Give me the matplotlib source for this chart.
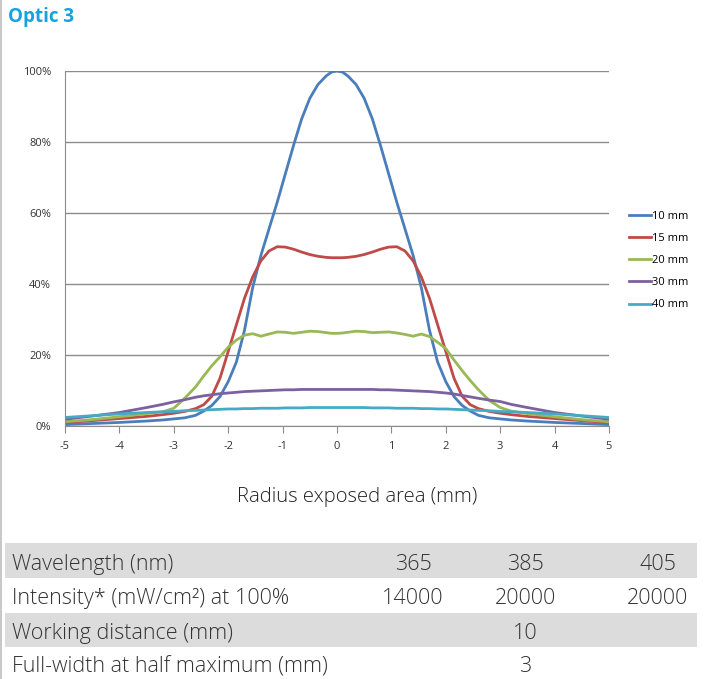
import matplotlib.pyplot as plt
from matplotlib.patches import Rectangle

# radius (mm) and relative intensity (%)
x = [-5, -4.5, -4, -3.5, -3.2, -3, -2.8, -2.6, -2.45, -2.3, -2.15, -2.0, -1.85, -1.7, -1.55,
     -1.4, -1.25, -1.1, -0.95, -0.8, -0.65, -0.5, -0.35, -0.2, -0.1, 0,
     0.1, 0.2, 0.35, 0.5, 0.65, 0.8, 0.95, 1.1, 1.25, 1.4,
     1.55, 1.7, 1.85, 2.0, 2.15, 2.3, 2.45, 2.6, 2.8, 3, 3.2, 3.5, 4, 4.5, 5]

d10 = [0.4, 0.7, 1.0, 1.4, 1.7, 2.0, 2.3, 3.0, 4.2, 5.8, 8.3, 12.5, 18, 27, 39,
       48, 55.5, 63, 71, 79, 86.5, 92.3, 96.2, 98.6, 99.7, 100,
       99.7, 98.6, 96.2, 92.3, 86.5, 79, 71, 63, 55.5, 48,
       39, 27, 18, 12.5, 8.3, 5.8, 4.2, 3.0, 2.3, 2.0, 1.7, 1.4, 1.0, 0.7, 0.4]
d15 = [1.0, 1.5, 2.1, 2.7, 3.2, 3.6, 4.1, 4.9, 6.0, 8.4, 13.5, 21, 28.5, 36, 42,
       46.5, 49.3, 50.5, 50.4, 49.8, 49.0, 48.3, 47.8, 47.5, 47.4, 47.4,
       47.4, 47.5, 47.8, 48.3, 49.0, 49.8, 50.4, 50.5, 49.3, 46.5,
       42, 36, 28.5, 21, 13.5, 8.4, 6.0, 4.9, 4.1, 3.6, 3.2, 2.7, 2.1, 1.5, 1.0]
d20 = [1.2, 1.8, 2.6, 3.5, 4.0, 5.0, 7.8, 11.0, 14.1, 17, 19.5, 22.2, 24.2, 25.6, 26.0,
       25.3, 25.9, 26.5, 26.4, 26.1, 26.4, 26.7, 26.6, 26.3, 26.1, 26.1,
       26.2, 26.4, 26.7, 26.6, 26.3, 26.4, 26.5, 26.2, 25.8, 25.3,
       25.9, 25.2, 23.6, 21.8, 18.6, 15.6, 12.8, 10.2, 7.2, 5.2, 4.2, 3.5, 2.6, 1.8, 1.2]
d30 = [1.9, 2.8, 3.8, 5.2, 6.1, 6.8, 7.4, 8.1, 8.5, 8.8, 9.1, 9.3, 9.5, 9.7, 9.8,
       9.9, 10.0, 10.1, 10.2, 10.2, 10.3, 10.3, 10.3, 10.3, 10.3, 10.3,
       10.3, 10.3, 10.3, 10.3, 10.3, 10.2, 10.2, 10.1, 10.0, 9.9,
       9.8, 9.7, 9.5, 9.3, 9.0, 8.6, 8.2, 7.8, 7.3, 6.9, 6.1, 5.2, 3.8, 2.8, 1.9]
d40 = [2.4, 2.9, 3.4, 3.8, 4.0, 4.1, 4.3, 4.4, 4.5, 4.6, 4.7, 4.8, 4.8, 4.9, 4.9,
       5.0, 5.0, 5.0, 5.1, 5.1, 5.1, 5.2, 5.2, 5.2, 5.2, 5.2,
       5.2, 5.2, 5.2, 5.2, 5.1, 5.1, 5.1, 5.0, 5.0, 5.0,
       4.9, 4.9, 4.8, 4.8, 4.7, 4.6, 4.5, 4.4, 4.3, 4.1, 4.0, 3.8, 3.4, 2.9, 2.4]

series = [d10, d15, d20, d30, d40]
labels = ['10 mm', '15 mm', '20 mm', '30 mm', '40 mm']
colors = ['#4A7EBB', '#BE4B48', '#98B954', '#7D60A0', '#46AAC5']

table_rows = ['Wavelength (nm)', 'Intensity* (mW/cm²) at 100%',
              'Working distance (mm)', 'Full-width at half maximum (mm)']
table_vals = [['365', '385', '405'], ['14000', '20000', '20000'], ['', '10', ''], ['', '3', '']]

W, H = 712, 679
plt.rcParams['font.family'] = ['Open Sans', 'DejaVu Sans']
plt.rcParams['axes.unicode_minus'] = False
fig = plt.figure(figsize=(W / 100, H / 100), dpi=100)

def fx(px):
    return px / W

def fy(py):
    return 1 - py / H

ax = fig.add_axes([fx(65), fy(426), fx(609) - fx(65), fy(71) - fy(426)])
for s, lab, c in zip(series, labels, colors):
    ax.plot(x, s, color=c, lw=2, label=lab, solid_joinstyle='round')

ax.set_xlim(-5, 5)
ax.set_ylim(0, 100)
ax.set_xticks(range(-5, 6))
ax.set_yticks(range(0, 101, 20))
ax.set_yticklabels([f'{v}%' for v in range(0, 101, 20)])
ax.yaxis.grid(True, color='#8c8c8c', lw=1)
ax.set_axisbelow(True)
for sp in ['top', 'right']:
    ax.spines[sp].set_visible(False)
for sp in ['left', 'bottom']:
    ax.spines[sp].set_color('#8c8c8c')
ax.tick_params(axis='x', length=5, color='#8c8c8c', labelsize=8, pad=6, labelcolor='#333333')
ax.tick_params(axis='y', length=0, labelsize=8, pad=10, labelcolor='#333333')

ax.legend(loc='upper left', bbox_to_anchor=(fx(619), fy(201)), bbox_transform=fig.transFigure,
          frameon=False, fontsize=8, handlelength=2.0, handletextpad=0.1, labelspacing=1.0)

fig.text(fx(357), fy(497), 'Radius exposed area (mm)', ha='center', va='center', fontsize=14.6,
         fontweight='light', color='#222222')
fig.text(fx(8), fy(17), 'Optic 3', ha='left', va='center', fontsize=13.5, fontweight='bold',
         color='#16A2E0')

# left border line of the page
fig.add_artist(Rectangle((0, 0), fx(2), 1, transform=fig.transFigure, color='#c8c8c8', lw=0))

row_top = [543, 578, 613, 647]
row_bot = [578, 613, 647, 681]
baseline = [570, 604, 639, 672]
col_x = [413, 525, 658]
for i, name in enumerate(table_rows):
    if i % 2 == 0:
        fig.add_artist(Rectangle((fx(5), fy(row_bot[i])), fx(697) - fx(5), fy(row_top[i]) - fy(row_bot[i]),
                                 transform=fig.transFigure, color='#dcdcdc', lw=0))
    yb = fy(baseline[i])
    fig.text(fx(12), yb, name, ha='left', va='baseline', fontsize=15.5, fontweight='light', color='#333333')
    for cx, v in zip(col_x, table_vals[i]):
        fig.text(fx(cx), yb, v, ha='center', va='baseline', fontsize=15.5, fontweight='light',
                 color='#333333')

fig.savefig('out.png', dpi=100)
